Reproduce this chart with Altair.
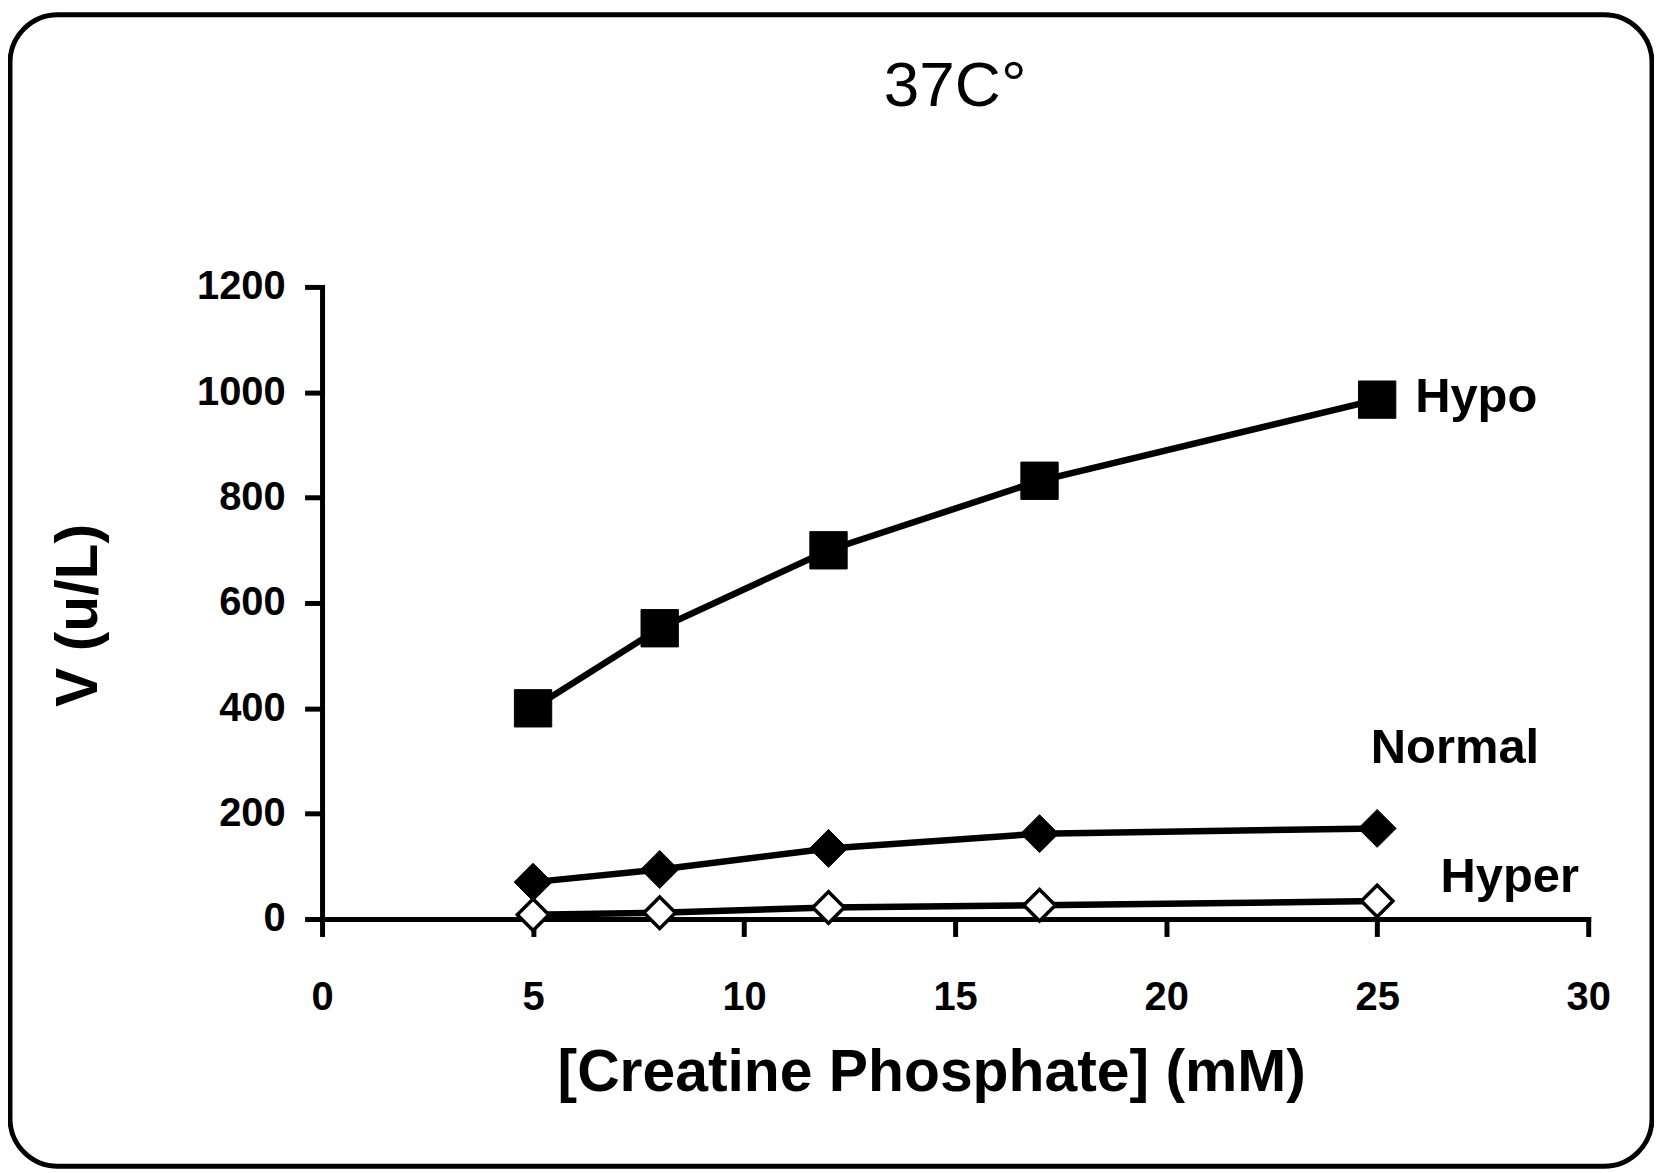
import altair as alt
import pandas as pd

# ---- data ----
conc = [5, 8, 12, 17, 25]                 # [Creatine Phosphate] (mM)
hypo = [400, 552, 700, 832, 986]          # V (u/L)
normal = [70, 94, 134, 162, 172]
hyper = [8, 12, 22, 26, 34]

series_names = ["Hypo", "Normal", "Hyper"]
label_x = [25.9, 24.85, 26.5]
label_y = [990, 325, 79]

x_ticks = [0, 5, 10, 15, 20, 25, 30]
y_ticks = [0, 200, 400, 600, 800, 1000, 1200]

rows = []
for name, vals in zip(series_names, [hypo, normal, hyper]):
    for c, v in zip(conc, vals):
        rows.append({"series": name, "conc": c, "v": v})
df = pd.DataFrame(rows)
labels = pd.DataFrame({"series": series_names, "lx": label_x, "ly": label_y})

W, H = 1270, 634
FONT = "Liberation Sans"

xs = alt.Scale(domain=[0, 30], nice=False, zero=False)
ys = alt.Scale(domain=[0, 1200], nice=False, zero=False)

x_enc = alt.X("conc:Q", scale=xs,
              axis=alt.Axis(values=x_ticks, title="[Creatine Phosphate] (mM)", format="d",
                            labelFlush=False,
                            titleX=611, titleY=172, titleBaseline="alphabetic",
                            titleAnchor="middle"))
y_enc = alt.Y("v:Q", scale=ys,
              axis=alt.Axis(values=y_ticks, title="V (u/L)", format="d",
                            labelFlush=False,
                            titleX=-226, titleY=329, titleBaseline="alphabetic",
                            titleAngle=270, titleAnchor="middle"))

border = alt.Chart(pd.DataFrame({"a": [0]})).mark_rect(
    fillOpacity=0, stroke="black", strokeWidth=5, cornerRadius=48
).encode(x=alt.value(-313), x2=alt.value(1334), y=alt.value(-273), y2=alt.value(882))

lines = alt.Chart(df).mark_line(color="black", strokeWidth=6.5).encode(
    x=x_enc, y=y_enc, detail="series:N"
)

pt_hypo = alt.Chart(df).transform_filter(alt.datum.series == "Hypo").mark_point(
    shape="square", filled=True, fill="black", stroke="black", strokeWidth=1, size=1400, opacity=1
).encode(x="conc:Q", y="v:Q")

pt_normal = alt.Chart(df).transform_filter(alt.datum.series == "Normal").mark_point(
    shape="diamond", filled=True, fill="black", stroke="black", strokeWidth=1, size=1444, opacity=1
).encode(x="conc:Q", y="v:Q")

pt_hyper = alt.Chart(df).transform_filter(alt.datum.series == "Hyper").mark_point(
    shape="diamond", filled=True, fill="white", stroke="black", strokeWidth=3.5, size=1000, opacity=1
).encode(x="conc:Q", y="v:Q")

texts = alt.Chart(labels).mark_text(
    align="left", baseline="middle", font=FONT, fontWeight="bold", fontSize=49, color="black"
).encode(x="lx:Q", y="ly:Q", text="series:N")

chart = alt.layer(border, lines, pt_hypo, pt_normal, pt_hyper, texts).properties(
    width=W, height=H,
    title=alt.TitleParams("37C°", font=FONT, fontSize=64, fontWeight="normal",
                          color="black", anchor="middle", frame="group",
                          baseline="alphabetic", offset=-158),
    autosize=alt.AutoSizeParams(type="none"),
    padding={"left": 315, "top": 278, "right": 66, "bottom": 252},
    background="white",
).configure_view(strokeWidth=0).configure_axis(
    grid=False, domainColor="black", domainWidth=5, tickColor="black", tickWidth=5,
    tickSize=15, labelFont=FONT, labelFontWeight="bold", labelFontSize=40,
    labelColor="black", titleFont=FONT, titleFontWeight="bold", titleFontSize=59,
    titleColor="black", tickCap="square", domainCap="square"
).configure_axisX(labelPadding=44).configure_axisY(labelPadding=22)

chart.save("out.html", embed_options={"renderer": "svg", "actions": False})
